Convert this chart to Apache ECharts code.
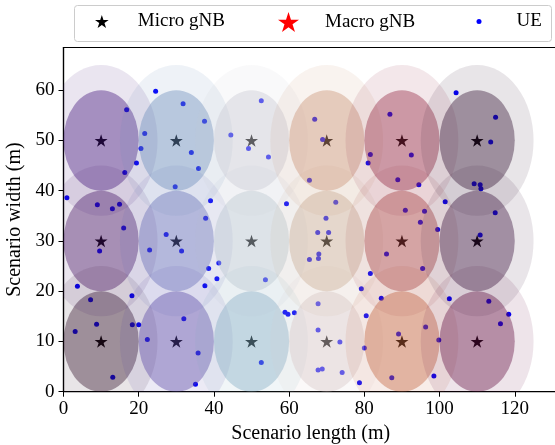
<!DOCTYPE html>
<html><head><meta charset="utf-8">
<script src="https://cdn.jsdelivr.net/npm/echarts@6/dist/echarts.min.js"></script>
<style>html,body{margin:0;padding:0;background:#fff}#c{width:555px;height:445px}</style>
</head><body><div id="c"></div>
<script>
// ---- data ----
const gnbX = [10, 30, 50, 70, 90, 110];
const gnbY = [10, 30, 50];
const ueX = [24.5,16.8,31.8,37.5,21.6,20.6,34.0,52.6,44.5,49.2,54.5,19.4,16.3,35.9,29.7,0.9,9.0,13.0,14.9,39.1,37.8,59.3,65.4,
  66.8,68.9,72.4,69.8,86.8,81.6,81.0,92.5,88.9,94.5,90.9,96.0,101.5,104.4,114.9,113.6,109.2,110.8,111.0,114.8,
  16.0,9.6,3.7,7.2,18.2,8.8,3.1,18.3,20.0,13.1,27.3,22.9,31.4,41.3,38.6,40.8,37.6,53.7,65.4,32.0,22.3,35.8,35.1,52.6,58.9,59.7,61.4,
  67.6,70.5,67.9,67.8,94.9,99.5,110.8,85.9,95.5,81.6,79.2,84.5,102.6,113.1,118.4,116.2,67.7,67.7,80.5,96.3,89.1,73.5,80.0,99.8,67.7,68.8,74.1,78.7,87.3,98.5];
const ueY = [59.8,56.1,57.3,53.8,51.4,48.4,47.6,57.9,51.1,48.4,46.7,45.5,43.6,44.4,40.8,38.6,37.2,36.4,37.3,38.0,34.5,37.4,42.1,
  54.2,50.2,37.7,34.5,55.2,47.2,45.5,47.1,42.2,41.2,36.1,35.9,37.8,59.5,54.6,49.7,41.4,41.2,40.4,35.6,
  32.6,28.0,21.0,18.3,19.1,13.4,12.0,13.3,13.3,2.9,31.3,28.2,28.0,25.6,24.5,22.5,21.1,22.3,26.3,14.5,10.4,7.7,1.5,5.8,15.8,15.4,15.7,
  31.7,31.7,27.4,26.5,33.7,32.3,31.2,27.4,24.5,23.5,20.5,18.6,18.5,18.0,15.4,13.5,17.5,12.3,15.1,12.9,11.5,9.9,8.7,10.3,4.3,4.5,3.8,1.8,2.8,3.1];
const xTicks = [0, 20, 40, 60, 80, 100, 120];
const yTicks = [0, 10, 20, 30, 40, 50, 60];
const R_INNER = 10;
const R_OUTER = 15;

// ---- style ----
const rowColors = [
  ['47,15,40','85,64,163','128,171,193','216,197,197','193,94,55','98,13,64'],
  ['68,15,96','94,103,180','182,195,206','201,171,146','165,60,60','55,15,58'],
  ['62,15,120','103,137,184','201,201,210','199,143,113','146,34,62','47,15,47']
];
const A_OUT = 0.11, A_IN = 0.40;
const FONT = 'Liberation Serif';
const STAR = 'path://M0,-1L0.2245,-0.309L0.951,-0.309L0.363,0.118L0.588,0.809L0,0.382L-0.588,0.809L-0.363,0.118L-0.951,-0.309L-0.2245,-0.309Z';

const gnbData = [], cellData = [];
gnbY.forEach((y, r) => gnbX.forEach((x, c) => {
  gnbData.push([x, y]);
  cellData.push([x, y, r, c]);
}));
const ueData = ueX.map((x, i) => [x, ueY[i]]);

const chart = echarts.init(document.getElementById('c'), null, {renderer: 'canvas'});
chart.setOption({
  animation: false,
  backgroundColor: '#fff',
  grid: {left: 63.5, top: 47.5, right: -3, bottom: 53.3, containLabel: false, outerBoundsMode: 'none',
    show: true, borderColor: '#000', borderWidth: 1.2, backgroundColor: 'transparent'},
  xAxis: {
    type: 'value', min: 0, max: 131.5, interval: 20,
    name: 'Scenario length (m)', nameLocation: 'middle', nameGap: 30,
    nameTextStyle: {fontFamily: FONT, fontSize: 20, color: '#000'},
    axisLine: {show: true, lineStyle: {color: '#000', width: 1.2}},
    axisTick: {show: true, length: 5, inside: false, customValues: xTicks, lineStyle: {color: '#000', width: 1}},
    axisLabel: {customValues: xTicks, fontFamily: FONT, fontSize: 19, color: '#000', margin: 8},
    splitLine: {show: false}
  },
  yAxis: {
    type: 'value', min: 0, max: 68.5, interval: 10,
    name: 'Scenario width (m)', nameLocation: 'middle', nameGap: 30,
    nameTextStyle: {fontFamily: FONT, fontSize: 20, color: '#000'},
    axisLine: {show: true, lineStyle: {color: '#000', width: 1.2}},
    axisTick: {show: true, length: 5, inside: false, customValues: yTicks, lineStyle: {color: '#000', width: 1}},
    axisLabel: {customValues: yTicks, fontFamily: FONT, fontSize: 19, color: '#000', margin: 9},
    splitLine: {show: false}
  },
  legend: [
    {data: ['Micro gNB'], left: 95, top: 12, padding: 0, icon: STAR, itemWidth: 14, itemHeight: 13,
     textStyle: {fontFamily: FONT, fontSize: 19, color: '#000', padding: [0,0,0,24]}},
    {data: ['Macro gNB'], left: 278, top: 12, padding: 0, icon: STAR, itemWidth: 21, itemHeight: 20,
     textStyle: {fontFamily: FONT, fontSize: 19, color: '#000', padding: [0,0,0,21]}},
    {data: ['UE'], left: 476.5, top: 12, padding: 0, icon: 'circle', itemWidth: 5, itemHeight: 5,
     textStyle: {fontFamily: FONT, fontSize: 19, color: '#000', padding: [0,0,0,30]}}
  ],
  graphic: [{type: 'rect', left: 74, top: 5, z: -1, shape: {width: 477, height: 36, r: 3},
    style: {fill: '#fff', stroke: '#cccccc', lineWidth: 1}}],
  series: [
    {name: 'Micro gNB', type: 'scatter', z: 2, symbol: STAR, symbolSize: [13, 12.5],
     itemStyle: {color: '#000', opacity: 1}, data: gnbData},
    {name: 'Macro gNB', type: 'scatter', z: 2, symbol: STAR, symbolSize: [21, 20],
     itemStyle: {color: '#ff0000', opacity: 1}, data: []},
    {name: 'UE', type: 'scatter', z: 2, symbol: 'circle', symbolSize: 5,
     itemStyle: {color: '#0000ff', opacity: 1}, data: ueData},
    {type: 'custom', z: 3, clip: true, silent: true, data: cellData,
     renderItem: function (params, api) {
       const p = api.coord([api.value(0), api.value(1)]);
       const col = rowColors[api.value(2)][api.value(3)];
       const oRx = api.size([R_OUTER, 0])[0], oRy = api.size([0, R_OUTER])[1];
       const iRx = api.size([R_INNER, 0])[0], iRy = api.size([0, R_INNER])[1];
       return {type: 'group', children: [
         {type: 'circle', x: p[0], y: p[1], scaleX: 1, scaleY: oRy / oRx, shape: {cx: 0, cy: 0, r: oRx},
          style: {fill: 'rgba(' + col + ',' + A_OUT + ')'}},
         {type: 'circle', x: p[0], y: p[1], scaleX: 1, scaleY: iRy / iRx, shape: {cx: 0, cy: 0, r: iRx},
          style: {fill: 'rgba(' + col + ',' + A_IN + ')'}}
       ]};
     }}
  ]
});
</script></body></html>
